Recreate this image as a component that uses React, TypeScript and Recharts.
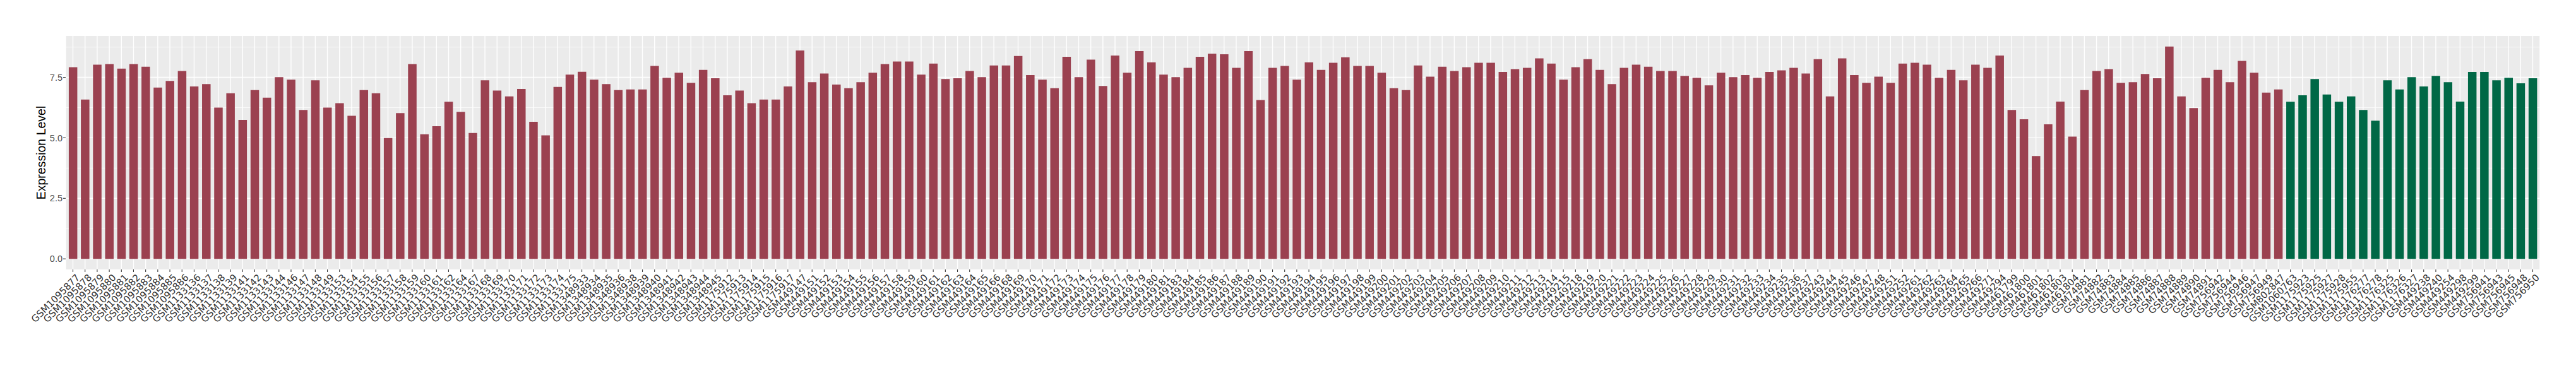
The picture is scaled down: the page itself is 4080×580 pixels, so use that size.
import React from "react";
import { BarChart, Bar, XAxis, YAxis, CartesianGrid, Cell } from "recharts";

// samples drawn in the dark red group
const groupASamples = [
  "GSM1095877", "GSM1095878", "GSM1095879", "GSM1095880", "GSM1095881", "GSM1095882",
  "GSM1095883", "GSM1095884", "GSM1095885", "GSM1095886", "GSM1133136", "GSM1133137",
  "GSM1133138", "GSM1133139", "GSM1133141", "GSM1133142", "GSM1133143", "GSM1133144",
  "GSM1133146", "GSM1133147", "GSM1133148", "GSM1133149", "GSM1133153", "GSM1133154",
  "GSM1133155", "GSM1133156", "GSM1133157", "GSM1133158", "GSM1133159", "GSM1133160",
  "GSM1133161", "GSM1133162", "GSM1133164", "GSM1133167", "GSM1133168", "GSM1133169",
  "GSM1133170", "GSM1133171", "GSM1133172", "GSM1133173", "GSM1133174", "GSM1133175",
  "GSM1348933", "GSM1348934", "GSM1348935", "GSM1348936", "GSM1348938", "GSM1348939",
  "GSM1348940", "GSM1348941", "GSM1348942", "GSM1348943", "GSM1348944", "GSM1348945",
  "GSM1175912", "GSM1175913", "GSM1175914", "GSM1175915", "GSM1175916", "GSM1175917",
  "GSM449147", "GSM449151", "GSM449152", "GSM449153", "GSM449154", "GSM449155",
  "GSM449156", "GSM449157", "GSM449158", "GSM449159", "GSM449160", "GSM449161",
  "GSM449162", "GSM449163", "GSM449164", "GSM449165", "GSM449166", "GSM449168",
  "GSM449169", "GSM449170", "GSM449171", "GSM449172", "GSM449173", "GSM449174",
  "GSM449175", "GSM449176", "GSM449177", "GSM449178", "GSM449179", "GSM449180",
  "GSM449181", "GSM449183", "GSM449184", "GSM449185", "GSM449186", "GSM449187",
  "GSM449188", "GSM449189", "GSM449190", "GSM449191", "GSM449192", "GSM449193",
  "GSM449194", "GSM449195", "GSM449196", "GSM449197", "GSM449198", "GSM449199",
  "GSM449200", "GSM449201", "GSM449202", "GSM449203", "GSM449204", "GSM449205",
  "GSM449206", "GSM449207", "GSM449208", "GSM449209", "GSM449210", "GSM449211",
  "GSM449212", "GSM449213", "GSM449214", "GSM449215", "GSM449218", "GSM449219",
  "GSM449220", "GSM449221", "GSM449222", "GSM449223", "GSM449224", "GSM449225",
  "GSM449226", "GSM449227", "GSM449228", "GSM449229", "GSM449230", "GSM449231",
  "GSM449232", "GSM449233", "GSM449234", "GSM449235", "GSM449236", "GSM449237",
  "GSM449243", "GSM449244", "GSM449245", "GSM449246", "GSM449247", "GSM449248",
  "GSM449251", "GSM449252", "GSM449261", "GSM449262", "GSM449263", "GSM449264",
  "GSM449265", "GSM449266", "GSM449271", "GSM449294", "GSM461799", "GSM461800",
  "GSM461801", "GSM461802", "GSM461803", "GSM461804", "GSM74881", "GSM74882",
  "GSM74883", "GSM74884", "GSM74885", "GSM74886", "GSM74887", "GSM74888",
  "GSM74889", "GSM74890", "GSM74891", "GSM756942", "GSM756944", "GSM756946",
  "GSM756947", "GSM756949", "GSM802847",
];

const groupAValues = [
  7.92, 6.58, 8.02, 8.05, 7.86, 8.05, 7.94, 7.08, 7.35, 7.76, 7.12, 7.22, 6.25, 6.84, 5.74, 6.97,
  6.66, 7.51, 7.4, 6.15, 7.38, 6.25, 6.43, 5.91, 6.97, 6.84, 4.99, 6.02, 8.05, 5.15, 5.48, 6.49, 6.07,
  5.2, 7.38, 6.95, 6.71, 7.02, 5.66, 5.1, 7.1, 7.61, 7.73, 7.4, 7.22, 6.97, 7.0, 7.0, 7.97, 7.48,
  7.69, 7.27, 7.81, 7.46, 6.76, 6.95, 6.43, 6.58, 6.58, 7.12, 8.61, 7.3, 7.66, 7.2, 7.05, 7.3,
  7.69, 8.05, 8.15, 8.15, 7.61, 8.07, 7.43, 7.46, 7.76, 7.51, 7.99, 7.99, 8.38, 7.59, 7.4, 7.05, 8.35,
  7.51, 8.23, 7.14, 8.4, 7.69, 8.58, 8.12, 7.61, 7.51, 7.89, 8.35, 8.48, 8.45, 7.89, 8.58, 6.56, 7.89,
  7.97, 7.4, 8.12, 7.81, 8.1, 8.33, 7.97, 7.97, 7.69, 7.05, 6.97, 7.99, 7.53, 7.94, 7.76, 7.92,
  8.1, 8.1, 7.72, 7.84, 7.89, 8.28, 8.07, 7.4, 7.92, 8.25, 7.81, 7.22, 7.89, 8.02, 7.94, 7.76, 7.76,
  7.56, 7.48, 7.17, 7.69, 7.51, 7.59, 7.48, 7.72, 7.79, 7.89, 7.66, 8.25, 6.71, 8.28, 7.59, 7.27, 7.53,
  7.27, 8.07, 8.1, 8.02, 7.48, 7.81, 7.38, 8.02, 7.89, 8.4, 6.15, 5.77, 4.25, 5.56, 6.5, 5.05,
  6.97, 7.76, 7.84, 7.27, 7.3, 7.64, 7.46, 8.77, 6.71, 6.23, 7.48, 7.81, 7.3, 8.18, 7.69, 6.87, 7.0,
];

// samples drawn in the green group
const groupBSamples = [
  "GSM1060763", "GSM1175923", "GSM1175925", "GSM1175927", "GSM1175928", "GSM1175955",
  "GSM1176277", "GSM1176278", "GSM1176325", "GSM1176326", "GSM1176327", "GSM449238",
  "GSM449240", "GSM449254", "GSM449298", "GSM449299", "GSM756941", "GSM756943",
  "GSM756945", "GSM756948", "GSM756950",
];

const groupBValues = [
  6.49, 6.76, 7.43, 6.79, 6.49, 6.71, 6.15, 5.71, 7.38, 7.0, 7.51,
  7.12, 7.56, 7.3, 6.5, 7.72, 7.72, 7.38, 7.48, 7.25, 7.46,
];

const yTicks = [0, 2.5, 5, 7.5];
const yMinorTicks = [1.25, 3.75, 6.25, 8.75];

const GROUP_A_COLOR = "#9b4150";
const GROUP_B_COLOR = "#006846";

const WIDTH = 4080;
const HEIGHT = 580;
const MARGIN = { top: 57, right: 57, bottom: 0, left: 0 };
const Y_AXIS_WIDTH = 104;
const X_AXIS_HEIGHT = 153;

const data = [
  ...groupASamples.map((sample, i) => ({ sample, value: groupAValues[i], group: "A" })),
  ...groupBSamples.map((sample, i) => ({ sample, value: groupBValues[i], group: "B" })),
];

// ggplot-like expansion: 5% on the value axis, 0.6 of a step on the category axis
const maxValue = Math.max(...data.map((d) => d.value));
const yDomain = [-maxValue * 0.05, maxValue * 1.05];
const plotWidth = WIDTH - MARGIN.left - MARGIN.right - Y_AXIS_WIDTH;
const step = plotWidth / (data.length + 0.2);
const xPad = step * 0.1;

function SampleTick({ x, y, payload }: any) {
  const tx = x + 4;
  return (
    <text
      x={tx}
      y={y}
      dy="0.72em"
      textAnchor="end"
      transform={`rotate(-45, ${tx}, ${y})`}
      fill="#333333"
      fontSize={15}
      fontFamily="'DejaVu Sans', sans-serif"
    >
      {payload.value}
    </text>
  );
}

function YTitle({ viewBox }: any) {
  const cy = viewBox.y + viewBox.height / 2;
  const cx = 72;
  return (
    <text
      x={cx}
      y={cy}
      textAnchor="middle"
      transform={`rotate(-90, ${cx}, ${cy})`}
      fill="#000000"
      fontSize={19.5}
      fontFamily="'Liberation Sans', Arial, sans-serif"
    >
      Expression Level
    </text>
  );
}

export default function App() {
  return (
    <div style={{ position: "absolute", left: 0, top: 0, width: WIDTH, height: HEIGHT, background: "#fff" }}>
      <BarChart width={WIDTH} height={HEIGHT} data={data} margin={MARGIN}>
        <CartesianGrid
          fill="#ebebeb"
          fillOpacity={1}
          stroke="#ffffff"
          strokeWidth={0.7}
          vertical={false}
          horizontalValues={yMinorTicks}
        />
        <CartesianGrid
          stroke="#ffffff"
          strokeWidth={1.4}
          horizontalValues={yTicks}
        />
        <XAxis
          dataKey="sample"
          type="category"
          interval={0}
          height={X_AXIS_HEIGHT}
          padding={{ left: xPad, right: xPad }}
          axisLine={false}
          tickLine={{ stroke: "#333333", strokeWidth: 1.1 }}
          tickSize={4}
          tickMargin={2}
          tick={(props: any) => <SampleTick {...props} />}
        />
        <YAxis
          type="number"
          width={Y_AXIS_WIDTH}
          domain={yDomain}
          ticks={yTicks}
          allowDataOverflow
          axisLine={false}
          tickLine={{ stroke: "#333333", strokeWidth: 1.1 }}
          tickSize={4}
          tickMargin={1}
          tickFormatter={(v: number) => v.toFixed(1)}
          tick={{ fill: "#4d4d4d", fontSize: 14.5, fontFamily: "'Liberation Sans', Arial, sans-serif" }}
          label={{ content: (props: any) => <YTitle {...props} /> }}
        />
        <Bar dataKey="value" barSize={13.5} isAnimationActive={false}>
          {data.map((d) => (
            <Cell key={d.sample} fill={d.group === "A" ? GROUP_A_COLOR : GROUP_B_COLOR} />
          ))}
        </Bar>
      </BarChart>
    </div>
  );
}
